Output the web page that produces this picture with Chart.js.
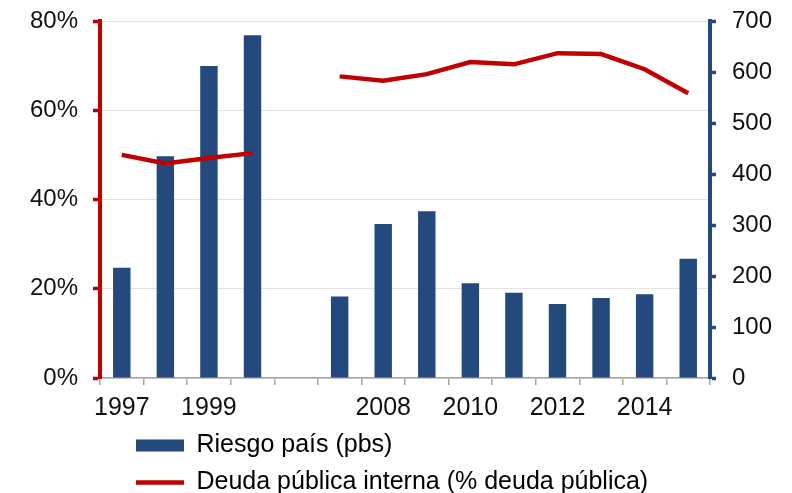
<!DOCTYPE html>
<html lang="es">
<head>
  <meta charset="UTF-8">
  <title>Riesgo país y deuda pública interna</title>
  <script src="https://cdn.jsdelivr.net/npm/chart.js"></script>
  <style>
    body { margin: 0; background: #fff; }
    #wrap { width: 792px; height: 493px; }
  </style>
</head>
<body>
  <div id="wrap"><canvas id="chart" width="792" height="493"></canvas></div>

  <script>
    // years (the empty slot is the break between 2000 and 2007)
    const years = ['1997', '1998', '1999', '2000', '', '2007', '2008', '2009', '2010', '2011', '2012', '2013', '2014', '2015'];
    // country risk, basis points (right axis)
    const riesgoPais = [216, 435, 612, 672, null, 160, 302, 327, 186, 167, 145, 157, 164, 234];
    // domestic public debt, % of total public debt (left axis)
    const deudaInterna = [50.0, 48.1, 49.3, 50.4, null, 67.6, 66.6, 68.1, 70.8, 70.3, 72.8, 72.6, 69.2, 63.8];
    const pctTicks = [0, 20, 40, 60, 80];
    const pbsTicks = [0, 100, 200, 300, 400, 500, 600, 700];

    const blue = '#23497d';
    const red = '#c00000';
    const family = "'Liberation Sans', Arial, sans-serif";
    // small lineHeight so the chart area can start near the top edge
    const yFont = { family, size: 24, lineHeight: 0.42 };

    // put the legend where the original has it
    const legendOffset = {
      id: 'legendOffset',
      afterLayout(chart) {
        const l = chart.legend;
        l.left += 124; l.right += 124;
        l.top -= 2; l.bottom -= 2;
      }
    };

    new Chart(document.getElementById('chart'), {
      data: {
        labels: years,
        datasets: [
          {
            type: 'line',
            label: 'Deuda pública interna (% deuda pública)',
            data: deudaInterna,
            yAxisID: 'yPct',
            borderColor: red,
            backgroundColor: red,
            borderWidth: 4.5,
            pointRadius: 0,
            tension: 0,
            spanGaps: false,
            order: 0
          },
          {
            type: 'bar',
            label: 'Riesgo país (pbs)',
            data: riesgoPais,
            yAxisID: 'yPbs',
            backgroundColor: blue,
            borderWidth: 0,
            barPercentage: 0.4,
            categoryPercentage: 1,
            order: 1
          }
        ]
      },
      options: {
        responsive: false,
        animation: false,
        layout: { padding: { top: 0, left: 0, right: 0, bottom: -14 } },
        plugins: {
          tooltip: { enabled: false },
          legend: {
            position: 'bottom',
            align: 'start',
            labels: {
              usePointStyle: true,
              pointStyleWidth: 48,
              boxHeight: 12,
              padding: 12,
              color: '#111',
              font: { family, size: 25 },
              generateLabels(chart) {
                const ds = chart.data.datasets;
                return [ds[1], ds[0]].map(d => ({
                  text: d.label,
                  fillStyle: d.type === 'bar' ? blue : red,
                  strokeStyle: d.type === 'bar' ? blue : red,
                  lineWidth: d.type === 'bar' ? 0 : 4.5,
                  pointStyle: d.type === 'bar' ? 'rect' : 'line',
                  hidden: false,
                  datasetIndex: ds.indexOf(d)
                }));
              }
            }
          }
        },
        scales: {
          x: {
            offset: true,
            grid: { offset: true, drawOnChartArea: false, color: '#a6a6a6', tickLength: 7, lineWidth: 1.5 },
            border: { color: '#a6a6a6', width: 1.5 },
            ticks: {
              autoSkip: false,
              maxRotation: 0,
              padding: 8,
              color: '#111',
              font: { family, size: 25 },
              callback: (v, i) => (i % 2 === 0 ? years[i] : '')
            },
            afterFit(scale) { scale.height = 45; }
          },
          yPct: {
            position: 'left',
            min: 0,
            max: 80,
            afterBuildTicks(scale) { scale.ticks = pctTicks.map(v => ({ value: v })); },
            grid: { color: '#e3e3e3', lineWidth: 1, tickColor: red, tickLength: 7, tickWidth: 3.5 },
            border: { color: red, width: 4 },
            ticks: { color: '#111', font: yFont, padding: 15, callback: v => v + '%' },
            afterFit(scale) { scale.width = 100; }
          },
          yPbs: {
            position: 'right',
            min: 0,
            max: 700,
            afterBuildTicks(scale) { scale.ticks = pbsTicks.map(v => ({ value: v })); },
            grid: { drawOnChartArea: false, tickColor: blue, tickLength: 6, tickWidth: 3.5 },
            border: { color: blue, width: 4 },
            ticks: { color: '#111', font: yFont, padding: 16 },
            afterFit(scale) { scale.width = 82; }
          }
        }
      },
      plugins: [legendOffset]
    });
  </script>
</body>
</html>
